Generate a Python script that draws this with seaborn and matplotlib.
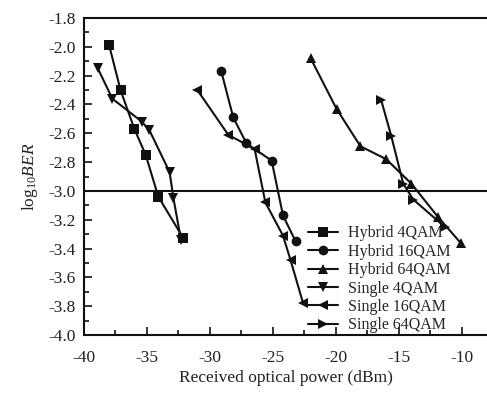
import matplotlib
matplotlib.use("Agg")
import matplotlib.pyplot as plt
from matplotlib.ticker import MultipleLocator
import seaborn as sns

# Data (received power in dBm, log10 BER)
hybrid_4qam_x = [-38.0, -37.1, -36.0, -35.1, -34.1, -32.1]
hybrid_4qam_y = [-1.99, -2.30, -2.57, -2.75, -3.04, -3.33]

hybrid_16qam_x = [-29.1, -28.15, -27.1, -25.1, -24.2, -23.2]
hybrid_16qam_y = [-2.17, -2.49, -2.67, -2.79, -3.17, -3.35]

hybrid_64qam_x = [-22.0, -19.95, -18.05, -16.0, -14.0, -11.9, -10.1]
hybrid_64qam_y = [-2.08, -2.43, -2.69, -2.78, -2.95, -3.18, -3.36]

single_4qam_x = [-38.9, -37.75, -35.4, -34.8, -33.2, -32.9, -32.3]
single_4qam_y = [-2.15, -2.36, -2.52, -2.58, -2.87, -3.05, -3.34]

single_16qam_x = [-31.0, -28.55, -26.45, -25.6, -24.2, -23.6, -22.6]
single_16qam_y = [-2.30, -2.61, -2.71, -3.08, -3.31, -3.48, -3.78]

single_64qam_x = [-16.4, -15.6, -14.65, -13.85, -11.35]
single_64qam_y = [-2.37, -2.62, -2.95, -3.06, -3.25]

series = [
    ("Hybrid 4QAM", hybrid_4qam_x, hybrid_4qam_y, "s"),
    ("Hybrid 16QAM", hybrid_16qam_x, hybrid_16qam_y, "o"),
    ("Hybrid 64QAM", hybrid_64qam_x, hybrid_64qam_y, "^"),
    ("Single 4QAM", single_4qam_x, single_4qam_y, "v"),
    ("Single 16QAM", single_16qam_x, single_16qam_y, "<"),
    ("Single 64QAM", single_64qam_x, single_64qam_y, ">"),
]

sns.set_style("ticks")
plt.rcParams["font.family"] = ["Liberation Serif", "DejaVu Serif"]
plt.rcParams["mathtext.fontset"] = "custom"
plt.rcParams["mathtext.rm"] = "Liberation Serif"
plt.rcParams["mathtext.it"] = "Liberation Serif:italic"

fig = plt.figure(figsize=(4.87, 3.94), dpi=100)
ax = fig.add_axes([0.1725, 0.1497, 0.8275, 0.8046])

for name, xs, ys, mk in series:
    sns.lineplot(
        x=xs, y=ys, ax=ax, color="#111111", marker=mk, markersize=7,
        markeredgewidth=0, linewidth=1.5, sort=False, estimator=None,
        label=name,
    )

ax.axhline(-3.0, color="#111111", linewidth=1.5, zorder=1)

ax.set_xlim(-40, -8)
ax.set_ylim(-4.0, -1.8)
ax.xaxis.set_major_locator(MultipleLocator(5))
ax.xaxis.set_minor_locator(MultipleLocator(2.5))
ax.yaxis.set_major_locator(MultipleLocator(0.2))
ax.yaxis.set_minor_locator(MultipleLocator(0.1))
ax.xaxis.set_major_formatter(plt.FuncFormatter(lambda v, p: f"{v:.0f}"))
ax.yaxis.set_major_formatter(plt.FuncFormatter(lambda v, p: f"{v:.1f}"))

ax.tick_params(which="both", direction="in", color="#111111", width=1.2,
               labelsize=12.5, labelcolor="#222222")
ax.tick_params(which="major", length=6)
ax.tick_params(which="minor", length=3.5)
ax.tick_params(axis="y", which="major", pad=6)
ax.tick_params(axis="x", which="major", pad=11)

for side in ["left", "bottom", "top"]:
    ax.spines[side].set_color("#111111")
    ax.spines[side].set_linewidth(1.5)
ax.spines["right"].set_visible(False)

ax.set_xlabel("Received optical power (dBm)", fontsize=12.5, color="#222222",
              labelpad=3)
ax.set_ylabel(r"$\mathrm{log}_{10}\mathit{BER}$", fontsize=12.5,
              color="#222222", labelpad=6)

ax.legend(
    loc="lower left", bbox_to_anchor=(0.555, 0.005), frameon=False,
    fontsize=11.5, borderpad=0, labelspacing=0.15, handlelength=1.9,
    handletextpad=0.6, borderaxespad=0,
)

fig.savefig("out.png", dpi=100)
